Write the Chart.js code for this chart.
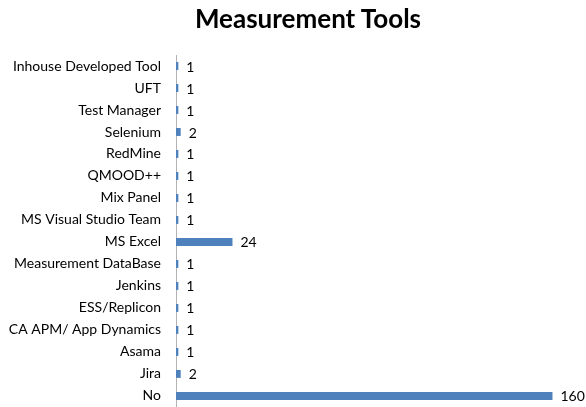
<!DOCTYPE html>
<html>
<head>
<meta charset="utf-8">
<script src="https://cdn.jsdelivr.net/npm/chart.js@4"></script>
<style>
  html, body { margin: 0; padding: 0; background: #fff; }
  #wrap { position: relative; width: 586px; height: 407px; overflow: hidden; }
  #title { position: absolute; left: 0; top: 2px; width: 616px; text-align: center;
           font: bold 26px Lato, "Liberation Sans", sans-serif; color: #000; }
  canvas { position: absolute; left: 0; top: 0; }
</style>
</head>
<body>
<div id="wrap">
  <canvas id="c" width="586" height="407"></canvas>
  <div id="title">Measurement Tools</div>
</div>
<script>
// categories top to bottom
const tools = ['Inhouse Developed Tool', 'UFT', 'Test Manager', 'Selenium', 'RedMine', 'QMOOD++',
  'Mix Panel', 'MS Visual Studio Team', 'MS Excel', 'Measurement DataBase', 'Jenkins',
  'ESS/Replicon', 'CA APM/ App Dynamics', 'Asama', 'Jira', 'No'];
const counts = [1, 1, 1, 2, 1, 1, 1, 1, 24, 1, 1, 1, 1, 1, 2, 160];

// write the value just past the end of each bar
const valueLabels = {
  id: 'valueLabels',
  afterDatasetsDraw(chart) {
    const ctx = chart.ctx;
    const meta = chart.getDatasetMeta(0);
    ctx.save();
    ctx.font = '14px Lato, "Liberation Sans", sans-serif';
    ctx.fillStyle = '#000';
    ctx.textAlign = 'left';
    ctx.textBaseline = 'middle';
    meta.data.forEach((bar, i) => {
      ctx.fillText(String(counts[i]), bar.x + 8, bar.y + 1);
    });
    ctx.restore();
  }
};

new Chart(document.getElementById('c'), {
  type: 'bar',
  data: {
    labels: tools,
    datasets: [{
      data: counts,
      backgroundColor: '#4f81bd',
      barPercentage: 0.36,
      categoryPercentage: 1
    }]
  },
  options: {
    indexAxis: 'y',
    responsive: false,
    animation: false,
    layout: { padding: { top: 55, right: 10, bottom: 0, left: 0 } },
    plugins: { legend: { display: false }, tooltip: { enabled: false }, title: { display: false } },
    scales: {
      x: { display: false, min: 0, max: 170 },
      y: {
        // tickLength gives the gap between labels and the axis line; ticks.padding would also pad vertically
        grid: { display: false, tickLength: 15 },
        border: { display: true, color: '#b3b3b3', width: 1 },
        ticks: { color: '#000', padding: 0, font: { family: 'Lato, "Liberation Sans", sans-serif', size: 14, lineHeight: 0.01 } },
        afterFit(scale) { scale.width = 176; }
      }
    }
  },
  plugins: [valueLabels]
});
</script>
</body>
</html>
